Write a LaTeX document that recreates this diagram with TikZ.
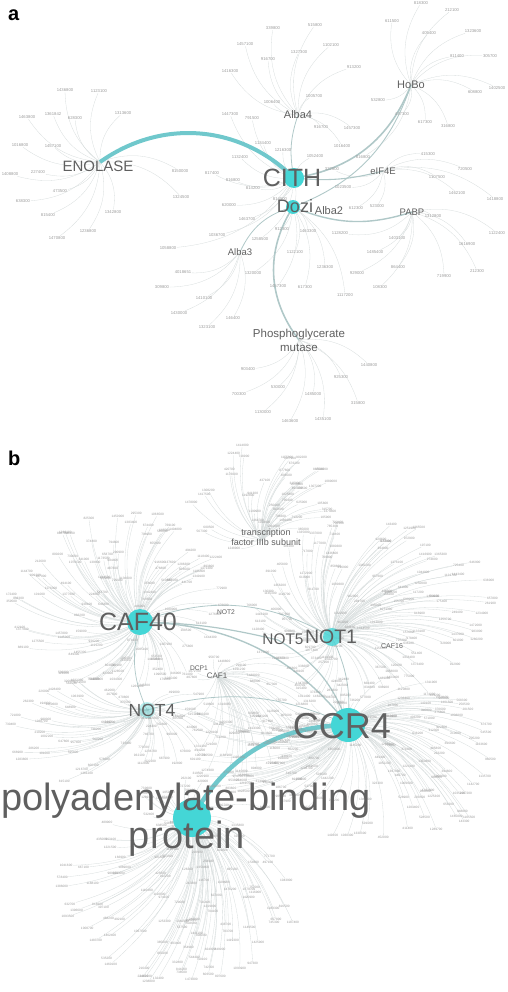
\documentclass[tikz,border=0pt]{standalone}
\usepackage{fontspec}
\setmainfont{Liberation Sans}
\usepackage{tikz}
\usetikzlibrary{arrows.meta, positioning, calc}

\definecolor{hubteal}{RGB}{68, 214, 214}
\definecolor{edgeteal}{RGB}{112, 200, 204}
\definecolor{edgegray}{RGB}{176, 200, 200}
\definecolor{thinedge}{RGB}{214, 220, 220}
\definecolor{hubtext}{RGB}{95, 95, 95}
\definecolor{leaftext}{RGB}{155, 155, 155}

\pgfdeclarelayer{edges}
\pgfsetlayers{edges,main}

\tikzset{
  hubdot/.style={circle, fill=hubteal, draw=none, inner sep=0pt},
  hublabel/.style={text=hubtext, inner sep=0pt},
  leafa/.style={text=leaftext, font=\fontsize{4.2}{4.5}\selectfont, inner sep=0.6pt},
  leafb/.style={text=leaftext, font=\fontsize{3.2}{3.5}\selectfont, inner sep=0.5pt},
  thinlink/.style={draw=thinedge, line width=0.3pt},
  heavylink/.style={draw=edgegray, line width=1.4pt},
  tealink/.style={draw=edgeteal, line width=4pt},
  panel/.style={font=\fontsize{20}{22}\selectfont\bfseries, anchor=base west, inner sep=0pt}
}

% named leaves round one hub (panel a)
\newcommand{\leaffan}[2]{%
  \foreach \lx/\ly/\lt [count=\li] in {#2}{%
    \node[leafa] (#1-\li) at (\lx,\ly) {\lt};
  }%
}
% cloud of leaves round one hub (panel b): prefix, count, cx, cy, rx, ry
\newcommand{\leafcloud}[6]{%
  \foreach \k in {1,...,#2}{%
    \pgfmathsetmacro{\leafang}{360*rnd}%
    \pgfmathsetmacro{\leafrad}{sqrt(rnd)}%
    \pgfmathrandominteger{\leafnum}{1000}{14900}%
    \node[leafb] (#1-\k) at ({#3+#5*\leafrad*cos(\leafang)},{#4+#6*\leafrad*sin(\leafang)}) {\leafnum00};
  }%
}
% thin links from a hub to its leaves: hub, prefix, count, bend
\newcommand{\leaflinks}[4]{%
  \foreach \k in {1,...,#3}{%
    \draw[thinlink] (#1) to[bend left=#4] (#2-\k);
  }%
}

\begin{document}
\begin{tikzpicture}[x=1pt, y=-1pt]
  \useasboundingbox (0,0) rectangle (507,992);
  \pgfmathsetseed{17}

  \node[panel] (pa) at (8,21) {a};
  \node[panel] (pb) at (8,465) {b};

  % panel a hubs
  \coordinate (eno) at (100,162);
  \coordinate (cith) at (294,178);
  \coordinate (dozi) at (293,207);
  \coordinate (alba2) at (328,210);
  \coordinate (alba4) at (298,115);
  \coordinate (alba3) at (240,252);
  \coordinate (eif) at (383,171);
  \coordinate (hobo) at (411,85);
  \coordinate (pabpa) at (412,212);
  \coordinate (pgm) at (299,340);

  \leaffan{eno}{65/90/1436800, 99/91/1123100, 123/113/1313600, 27/117/1463800,
    53/114/1361842, 75/118/628300, 20/145/1016800, 53/146/1457100, 10/174/1408800,
    38/172/227400, 60/191/473500, 23/201/638300, 48/215/815400, 57/238/1470800,
    88/231/1236800, 113/212/1342800, 181/197/1324500, 180/171/8150000}
  \leaffan{cith}{230/114/1447300, 252/118/791500, 263/143/1134400, 283/150/1216300,
    240/157/1132400, 315/156/1052400, 212/173/817400, 233/180/816800, 253/188/814200,
    280/199/814500, 229/205/620000, 247/219/1463700, 217/235/1036700, 168/248/1058800,
    282/229/912300, 260/239/1258500}
  \leaffan{alba4}{273/28/339800, 315/25/515800, 245/44/1457100, 299/52/1327300,
    331/45/1102100, 268/59/916700, 230/71/1416300, 354/67/913200, 272/102/1006400,
    314/96/1005700, 321/127/916700, 352/128/1457300, 342/146/1016400}
  \leaffan{hobo}{421/3/818300, 452/10/212100, 392/21/611500, 429/33/405400,
    473/31/1323600, 457/56/811400, 490/56/305700, 475/92/608800, 497/88/1402500,
    378/100/532800, 402/114/437300, 425/122/617300, 448/126/316800, 363/157/816800}
  \leaffan{eif}{428/154/415300, 437/177/1107500, 465/169/720500, 457/193/1462100,
    495/199/1418800, 332/169/322800, 343/187/1023500, 356/208/612300, 377/206/523000}
  \leaffan{pabpa}{433/216/1312800, 497/233/1122400, 467/244/1616900, 477/271/212300,
    444/276/719900, 398/267/864400, 397/238/1403100, 375/252/1485400, 380/287/108300,
    357/273/929000, 340/233/1128200}
  \leaffan{dozi}{308/231/1463300, 295/252/1122100, 325/267/1236300, 345/295/1117200,
    305/287/617300, 278/286/1457300, 253/273/1320000}
  \leaffan{alba3}{183/272/4018651, 162/287/309800, 204/298/1410100, 179/313/1430000,
    207/327/1323100, 233/318/146400}
  \leaffan{pgm}{248/369/903400, 369/365/1440800, 341/377/925300, 278/387/530000,
    239/394/700300, 313/394/1485000, 358/403/315800, 263/412/1130000,
    290/421/1463600, 323/419/1435100}

  % panel b hubs
  \coordinate (tf) at (262,540);
  \coordinate (caf40) at (140,622);
  \coordinate (not1) at (332,637);
  \coordinate (not5) at (278,640);
  \coordinate (not4) at (147,710);
  \coordinate (ccr4) at (348,725);
  \coordinate (pabp) at (192,818);
  \coordinate (caf1) at (217,676);

  \leafcloud{tfl}{45}{262}{498}{75}{55}
  \leafcloud{cafl}{115}{118}{600}{112}{95}
  \leafcloud{notl}{125}{372}{612}{125}{95}
  \leafcloud{notfl}{60}{118}{735}{110}{60}
  \leafcloud{ccrl}{115}{382}{762}{115}{90}
  \leafcloud{pabl}{120}{182}{882}{122}{105}
  \leafcloud{midl}{40}{245}{715}{70}{70}
  \leafcloud{midr}{35}{250}{740}{70}{60}

  \begin{pgfonlayer}{edges}
    \leaflinks{eno}{eno}{18}{25}
    \leaflinks{cith}{cith}{16}{25}
    \leaflinks{alba4}{alba4}{13}{25}
    \leaflinks{hobo}{hobo}{14}{25}
    \leaflinks{eif}{eif}{9}{25}
    \leaflinks{pabpa}{pabpa}{11}{25}
    \leaflinks{dozi}{dozi}{7}{25}
    \leaflinks{alba3}{alba3}{6}{25}
    \leaflinks{pgm}{pgm}{10}{25}

    \leaflinks{tf}{tfl}{45}{20}
    \leaflinks{caf40}{cafl}{115}{20}
    \leaflinks{not1}{notl}{125}{20}
    \leaflinks{not4}{notfl}{60}{20}
    \leaflinks{ccr4}{ccrl}{115}{20}
    \leaflinks{pabp}{pabl}{120}{20}
    \leaflinks{caf1}{midl}{40}{20}
    \leaflinks{ccr4}{midr}{35}{20}

    \draw[heavylink, line width=1.6pt] (cith) to[bend right=30] (hobo);
    \draw[heavylink, line width=0.9pt] (dozi) to[bend right=25] (hobo);
    \draw[heavylink] (dozi) to[bend right=20] (pabpa);
    \draw[heavylink, line width=1.1pt] (cith) to[bend right=10] (eif);
    \draw[heavylink, line width=1.6pt] (dozi) to[bend right=35] (pgm);
    \draw[heavylink, line width=0.8pt] (cith) to[bend left=15] (alba4);
    \draw[heavylink, line width=0.8pt] (alba3) to[bend left=25] (dozi);
    \draw[tealink] (eno) to[bend left=40] (cith);

    \draw[heavylink, line width=1.2pt] (caf40) to[bend left=6] (not5);
    \draw[heavylink, line width=0.8pt] (caf40) to[bend left=25] (not1);
    \draw[heavylink, line width=1.4pt] (caf40) to[bend left=25] (ccr4);
    \draw[heavylink, line width=1.2pt] (not5) to[bend left=20] (ccr4);
    \draw[heavylink, line width=0.8pt] (not1) to[bend left=15] (ccr4);
    \draw[heavylink, line width=0.8pt] (not4) to[bend left=20] (ccr4);
    \draw[heavylink, line width=0.7pt] (caf40) to[bend right=20] (not4);
    \draw[tealink, line width=4.5pt] (pabp) to[bend left=30] (ccr4);
  \end{pgfonlayer}

  \node[hubdot, minimum size=20pt] (cith-dot) at (cith) {};
  \node[hubdot, minimum size=14pt] (dozi-dot) at (dozi) {};

  \node[hublabel, font=\fontsize{15}{15}\selectfont] (eno-label) at (98,166) {ENOLASE};
  \node[hublabel, font=\fontsize{25}{25}\selectfont] (cith-label) at (292,178) {CITH};
  \node[hublabel, font=\fontsize{18}{18}\selectfont] (dozi-label) at (295,206) {Dozi};
  \node[hublabel, font=\fontsize{11}{11}\selectfont] (alba2-label) at (329,211) {Alba2};
  \node[hublabel, font=\fontsize{11}{11}\selectfont] (alba4-label) at (298,115) {Alba4};
  \node[hublabel, font=\fontsize{9.5}{9.5}\selectfont] (alba3-label) at (240,252) {Alba3};
  \node[hublabel, font=\fontsize{9.5}{9.5}\selectfont] (eif-label) at (383,171) {eIF4E};
  \node[hublabel, font=\fontsize{11}{11}\selectfont] (hobo-label) at (411,85) {HoBo};
  \node[hublabel, font=\fontsize{9.5}{9.5}\selectfont] (pabpa-label) at (412,212) {PABP};
  \node[hublabel, font=\fontsize{11.5}{11.5}\selectfont, anchor=base] (pgm-label1) at (299,337) {Phosphoglycerate};
  \node[hublabel, font=\fontsize{11.5}{11.5}\selectfont, anchor=base] (pgm-label2) at (299,351) {mutase};

  \node[hubdot, minimum size=26pt] (caf40-dot) at (caf40) {};
  \node[hubdot, minimum size=18pt, opacity=0.8] (not1-dot) at (not1) {};
  \node[hubdot, minimum size=16pt, opacity=0.35] (not4-dot) at (not4) {};
  \node[hubdot, minimum size=34pt] (ccr4-dot) at (ccr4) {};
  \node[hubdot, minimum size=38pt] (pabp-dot) at (pabp) {};

  \node[hublabel, font=\fontsize{9}{9}\selectfont, anchor=base] (tf-label1) at (266,535) {transcription};
  \node[hublabel, font=\fontsize{9}{9}\selectfont, anchor=base] (tf-label2) at (266,545) {factor IIIb subunit};
  \node[hublabel, font=\fontsize{25}{25}\selectfont] (caf40-label) at (138,622) {CAF40};
  \node[hublabel, font=\fontsize{19.5}{19.5}\selectfont] (not1-label) at (331,637) {NOT1};
  \node[hublabel, font=\fontsize{15.4}{15.4}\selectfont] (not5-label) at (283,639) {NOT5};
  \node[hublabel, font=\fontsize{17.5}{17.5}\selectfont] (not4-label) at (152,710) {NOT4};
  \node[hublabel, font=\fontsize{6.7}{6.7}\selectfont] (not2-label) at (226,612) {NOT2};
  \node[hublabel, font=\fontsize{7}{7}\selectfont] (caf16-label) at (392,646) {CAF16};
  \node[hublabel, font=\fontsize{6.7}{6.7}\selectfont] (dcp1-label) at (199,668) {DCP1};
  \node[hublabel, font=\fontsize{8}{8}\selectfont] (caf1-label) at (217,676) {CAF1};
  \node[hublabel, text=black!62, font=\fontsize{36}{36}\selectfont] (ccr4-label) at (342,726) {CCR4};
  \node[hublabel, font=\fontsize{38}{38}\selectfont, anchor=base] (pabp-label1) at (186,810) {polyadenylate-binding};
  \node[hublabel, font=\fontsize{38}{38}\selectfont, anchor=base] (pabp-label2) at (187,848) {protein};
\end{tikzpicture}
\end{document}
